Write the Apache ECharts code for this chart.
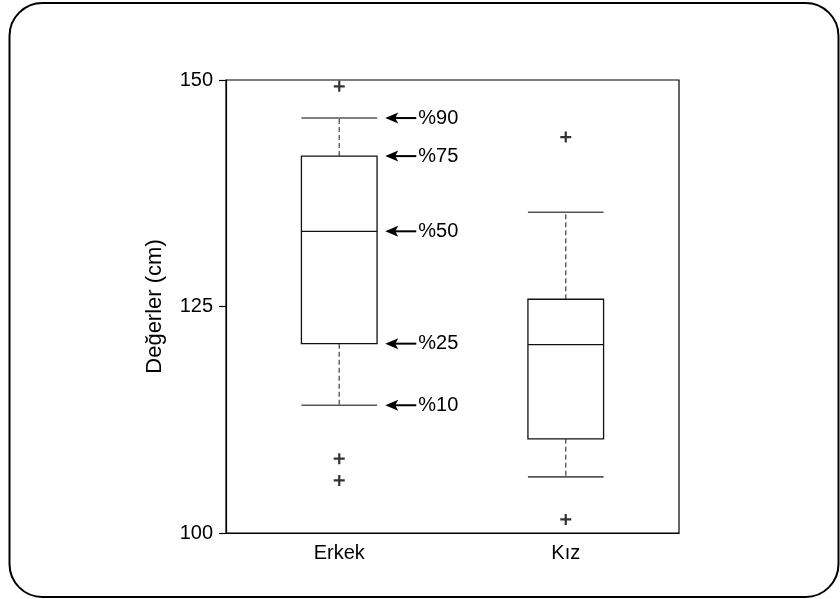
<!DOCTYPE html>
<html>
<head>
<meta charset="utf-8">
<script src="https://cdn.jsdelivr.net/npm/echarts@6/dist/echarts.min.js"></script>
<style>
  html, body { margin: 0; padding: 0; background: #fff; }
  #chart { width: 840px; height: 599px; }
</style>
</head>
<body>
<div id="chart"></div>
<script>
// kategoriler
var categories = ['Erkek', 'Kız'];
// [%10, %25, %50, %75, %90]
var erkekStats = [114.1, 120.9, 133.3, 141.6, 145.8];
var kizStats = [106.2, 110.4, 120.8, 125.8, 135.4];
// aykırı değerler [kategori, değer]
var outliers = [[0, 149.3], [0, 108.2], [0, 105.8], [1, 143.7], [1, 101.5]];
// ok etiketleri (Erkek kutusu için)
var percentLabels = ['%10', '%25', '%50', '%75', '%90'];
var yTicks = [100, 125, 150];

var FONT = 'Liberation Sans, Arial, sans-serif';

var boxData = [
    [0].concat(erkekStats),
    [1].concat(kizStats)
];
var arrowData = percentLabels.map(function (t, i) {
    return [0, erkekStats[i], t];
});

var chart = echarts.init(document.getElementById('chart'));

var option = {
    animation: false,
    backgroundColor: '#fff',
    textStyle: { fontFamily: FONT },
    graphic: [{
        type: 'rect',
        shape: { x: 9.5, y: 3, width: 829, height: 594, r: 33 },
        style: { fill: null, stroke: '#000', lineWidth: 2 },
        silent: true
    }],
    grid: {
        left: 226, top: 80, right: 161, bottom: 66,
        show: true, borderColor: '#000', borderWidth: 1.2
    },
    xAxis: {
        type: 'category',
        data: categories,
        axisLine: { show: true, lineStyle: { color: '#000', width: 1.2 } },
        axisTick: { show: false },
        axisLabel: { color: '#000', fontFamily: FONT, fontSize: 20, margin: 10 },
        splitLine: { show: false }
    },
    yAxis: {
        type: 'value',
        min: yTicks[0],
        max: yTicks[yTicks.length - 1],
        interval: 25,
        name: 'Değerler (cm)',
        nameLocation: 'middle',
        nameGap: 60,
        nameTextStyle: { color: '#000', fontFamily: FONT, fontSize: 22 },
        axisLine: { show: true, lineStyle: { color: '#000', width: 1.2 } },
        axisTick: { show: true, length: 7, lineStyle: { color: '#000', width: 1.2 } },
        axisLabel: { color: '#000', fontFamily: FONT, fontSize: 20, margin: 13 },
        splitLine: { show: false }
    },
    series: [
        {
            type: 'custom',
            data: boxData,
            encode: { x: 0, y: [1, 2, 3, 4, 5] },
            renderItem: function (params, api) {
                var c = api.value(0);
                var half = api.size([1, 0])[0] * 0.167;
                var pLo = api.coord([c, api.value(1)]);
                var pQ1 = api.coord([c, api.value(2)]);
                var pMed = api.coord([c, api.value(3)]);
                var pQ3 = api.coord([c, api.value(4)]);
                var pHi = api.coord([c, api.value(5)]);
                var x = pQ1[0];
                var solid = { stroke: '#111', lineWidth: 1.3 };
                var gray = { stroke: '#555', lineWidth: 1.6 };
                var dash = { stroke: '#666', lineWidth: 1.5, lineDash: [5, 3] };
                return {
                    type: 'group',
                    children: [
                        { type: 'line', shape: { x1: x, y1: pQ3[1], x2: x, y2: pHi[1] }, style: dash },
                        { type: 'line', shape: { x1: x, y1: pQ1[1], x2: x, y2: pLo[1] }, style: dash },
                        { type: 'line', shape: { x1: x - half, y1: pHi[1], x2: x + half, y2: pHi[1] }, style: gray },
                        { type: 'line', shape: { x1: x - half, y1: pLo[1], x2: x + half, y2: pLo[1] }, style: gray },
                        { type: 'rect', shape: { x: x - half, y: pQ3[1], width: half * 2, height: pQ1[1] - pQ3[1] },
                          style: { fill: '#fff', stroke: '#111', lineWidth: 1.3 } },
                        { type: 'line', shape: { x1: x - half, y1: pMed[1], x2: x + half, y2: pMed[1] }, style: solid }
                    ]
                };
            },
            z: 2
        },
        {
            type: 'scatter',
            data: outliers,
            symbol: 'path://M4,0h2v10h-2z M0,4h10v2h-10z',
            symbolSize: 11,
            itemStyle: { color: '#000' },
            z: 3
        },
        {
            type: 'custom',
            data: arrowData,
            encode: { x: 0, y: 1 },
            renderItem: function (params, api) {
                var p = api.coord([api.value(0), api.value(1)]);
                var tip = p[0] + 46;
                var end = p[0] + 77;
                var y = p[1];
                return {
                    type: 'group',
                    children: [
                        { type: 'line', shape: { x1: tip + 6, y1: y, x2: end, y2: y },
                          style: { stroke: '#000', lineWidth: 2 } },
                        { type: 'polygon', shape: { points: [[tip, y], [tip + 13, y - 5.5], [tip + 10, y], [tip + 13, y + 5.5]] },
                          style: { fill: '#000' } },
                        { type: 'text', x: end + 2, y: y,
                          style: { text: api.value(2), fill: '#000', fontSize: 20,
                                   fontFamily: FONT,
                                   verticalAlign: 'middle', align: 'left' } }
                    ]
                };
            },
            z: 4
        }
    ]
};

chart.setOption(option);
</script>
</body>
</html>
